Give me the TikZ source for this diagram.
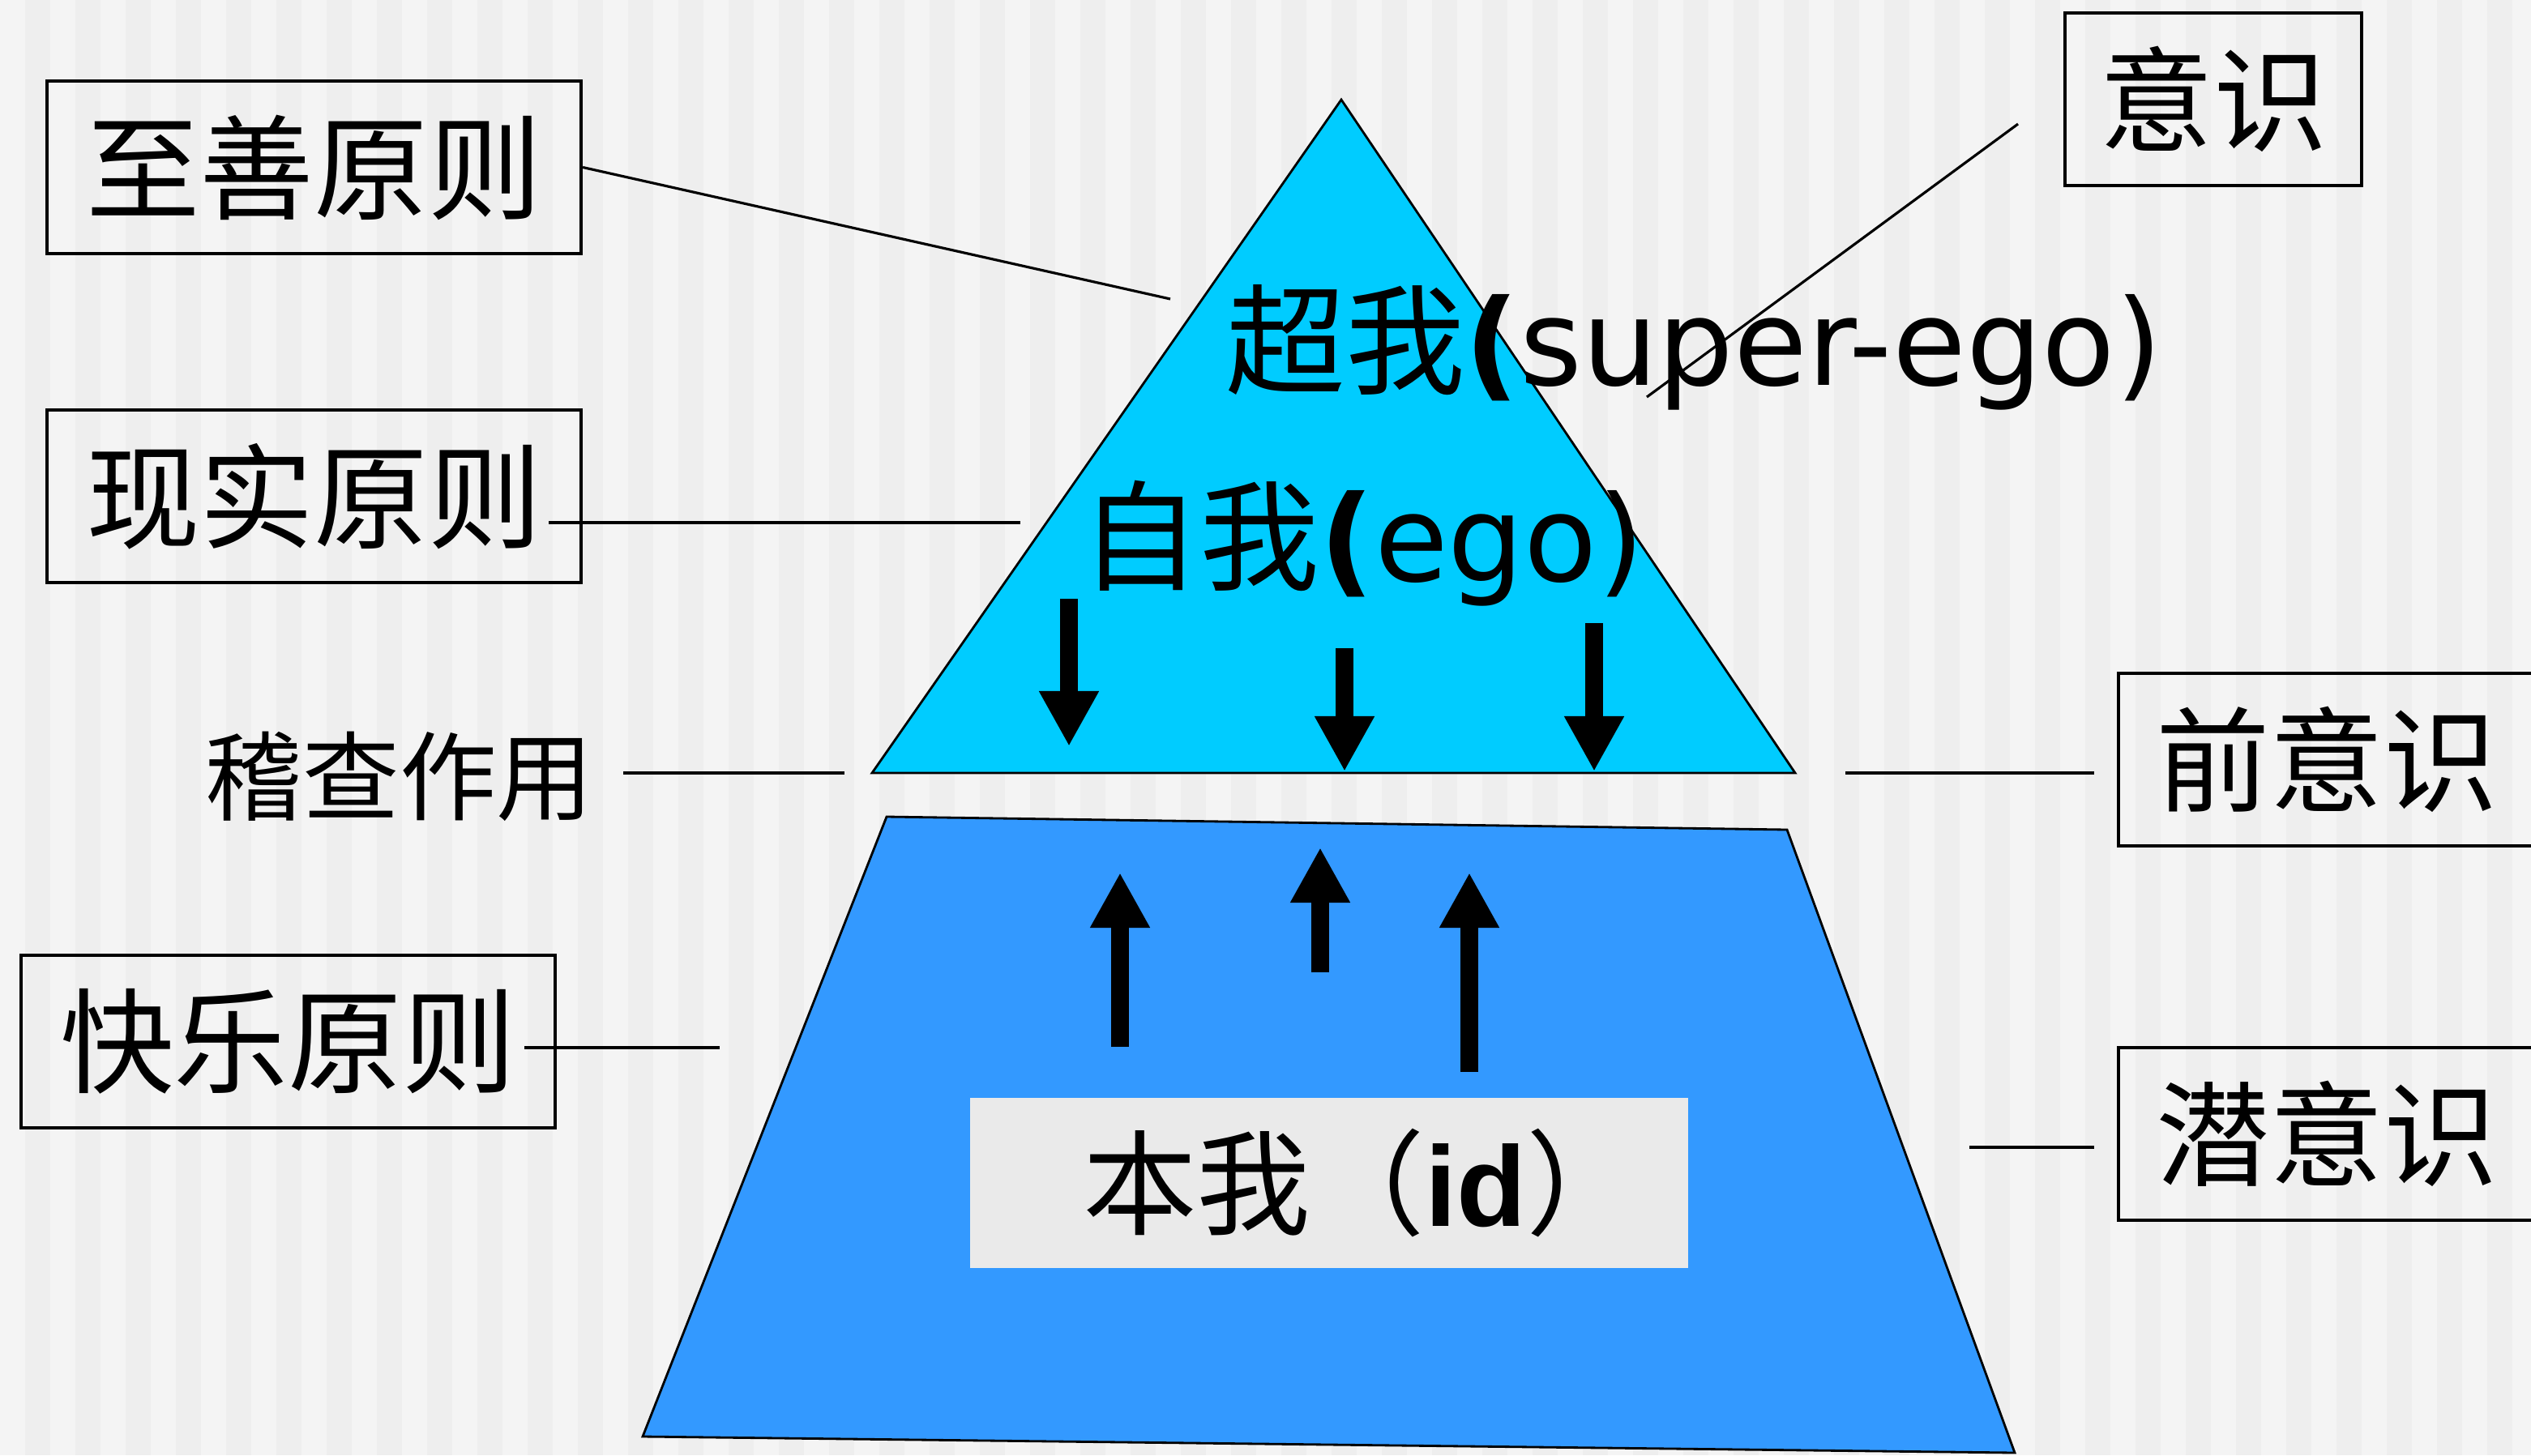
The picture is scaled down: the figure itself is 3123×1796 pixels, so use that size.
\documentclass[tikz,border=0pt]{standalone}
\usepackage{fontspec}
\setmainfont{DejaVu Sans}
\newfontfamily\song{Noto Sans CJK SC}
\newfontfamily\arial{Liberation Sans}
\usetikzlibrary{arrows.meta,positioning}

\definecolor{supercyan}{HTML}{00CCFF}
\definecolor{idblue}{HTML}{3399FF}
\definecolor{idgrey}{HTML}{EAEAEA}
\definecolor{stripeA}{HTML}{F4F4F4}
\definecolor{stripeB}{HTML}{EEEEEE}

\begin{document}
\begin{tikzpicture}[x=0.01cm,y=-0.01cm,
    principle/.style={draw,line width=1.1pt,minimum width=6.59cm,minimum height=2.13cm,
      inner sep=0pt,font=\song\fontsize{40}{40}\selectfont},
    layer/.style={anchor=base,inner sep=0pt,font=\fontsize{42}{42}\selectfont},
    link/.style={line width=0.9pt},
    push/.style={line width=0.22cm,-{Triangle[width=0.69cm,length=0.68cm]}}]
  \useasboundingbox (0,0) rectangle (3123,1796);
  \fill[stripeA] (0,0) rectangle (3123,1796);
  \foreach \i in {1,3,...,101}
    \fill[stripeB] (31*\i,0) rectangle ++(31,1796);

  % superego triangle and id trapezoid
  \coordinate (apex) at (1655,123);
  \coordinate (tl) at (1076,954);
  \coordinate (tr) at (2215,954);
  \coordinate (qa) at (1094,1008);
  \coordinate (qb) at (2205,1024);
  \coordinate (qc) at (2486,1793);
  \coordinate (qd) at (793,1773);
  \filldraw[fill=supercyan,line width=0.8pt] (apex) -- (tr) -- (tl) -- cycle;
  \filldraw[fill=idblue,line width=0.8pt] (qa) -- (qb) -- (qc) -- (qd) -- cycle;

  \node[layer] (superego) at (2090,475) {{\song 超我}{\bfseries(}super-ego)};
  \node[layer] (ego) at (1681,717) {{\song 自我}{\bfseries(}ego)};
  \node[fill=idgrey,minimum width=8.85cm,minimum height=2.09cm,inner sep=0pt] (idbox) at (1640,1460) {};
  \node[font=\song\fontsize{40}{40}\selectfont,xshift=0.4cm] (id) at (idbox) {本我（{\arial\bfseries id}）};

  \foreach \n/\x/\a/\b in {d1/1319/739/921,d2/1659/800/952,d3/1967/769/952,
                           u1/1382/1292/1077,u2/1629/1200/1046,u3/1813/1323/1077}{
    \coordinate (\n a) at (\x,\a);
    \coordinate (\n b) at (\x,\b);
    \draw[push] (\n a) -- (\n b);
  }

  % principles on the left
  \node[principle] (zhishan) at (387.5,206.5) {至善原则};
  \node[principle,below=1.89cm of zhishan] (xianshi) {现实原则};
  \node[principle] (kuaile) at (355.5,1285.5) {快乐原则};
  \node[font=\song\fontsize{34}{34}\selectfont] (jicha) at (493,958) {稽查作用};

  % levels of consciousness on the right
  \node[principle,minimum width=3.66cm] (yishi) at (2731,122.5) {意识};
  \node[principle,minimum width=5.13cm] (qianyishi) at (2871,937.5) {前意识};
  \node[principle,minimum width=5.13cm] (qianyishi2) at (2871,1399.5) {潜意识};

  \coordinate (zs) at (1444,369);
  \coordinate (ys a) at (2490,153);
  \coordinate (ys b) at (2032,490);
  \coordinate (xs a) at (677,645);
  \coordinate (xs b) at (1259,645);
  \coordinate (jc a) at (769,954);
  \coordinate (jc b) at (1042,954);
  \coordinate (qy a) at (2277,954);
  \coordinate (qy b) at (2584,954);
  \coordinate (kl a) at (647,1293);
  \coordinate (kl b) at (888,1293);
  \coordinate (qz a) at (2430,1416);
  \coordinate (qz b) at (2584,1416);

  \draw[link] (zhishan.east) -- (zs);
  \draw[link] (ys a) -- (ys b);
  \draw[link] (xs a) -- (xs b);
  \draw[link] (jc a) -- (jc b);
  \draw[link] (qy a) -- (qy b);
  \draw[link] (kl a) -- (kl b);
  \draw[link] (qz a) -- (qz b);
\end{tikzpicture}
\end{document}
